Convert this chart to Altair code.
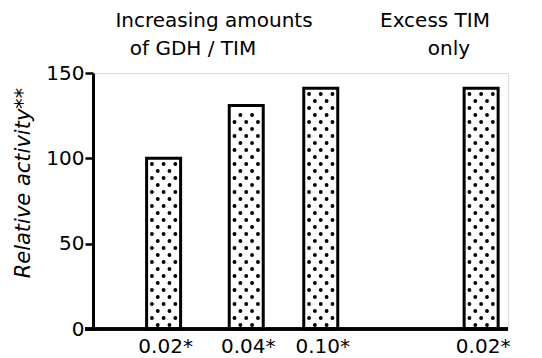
import altair as alt
import pandas as pd

# data
labels = ["0.02*", "0.04*", "0.10*", "0.02*"]
positions = [0.81, 1.83, 2.75, 4.73]
values = [100, 131, 141, 141]
groups = ["Increasing amounts of GDH / TIM"] * 3 + ["Excess TIM only"]

W, H = 415, 256
XMAX, YMAX = 5.0, 150.0
FONT = "DejaVu Sans"

bars = pd.DataFrame({"pos": positions, "value": values, "label": labels, "group": groups})

# stipple texture inside each bar (derived from the bar table)
ux = XMAX / W
uy = YMAX / H
dots = []
for p, v in zip(positions, values):
    row = 0
    ypx = 4.0
    while ypx < v / uy - 3:
        offs = [-12, 0, 12] if row % 2 else [-6, 6]
        for o in offs:
            dots.append({"x": p + o * ux, "y": ypx * uy})
        ypx += 7.0
        row += 1
dots = pd.DataFrame(dots)

xs = alt.Scale(domain=[0, XMAX], nice=False, zero=True)
ys = alt.Scale(domain=[0, YMAX], nice=False)

bar = alt.Chart(bars).mark_bar(size=34, fill="white", stroke="black", strokeWidth=3).encode(
    x=alt.X("pos:Q", scale=xs, axis=None),
    y=alt.Y("value:Q", scale=ys, axis=alt.Axis(
        values=[0, 50, 100, 150], title=None, grid=False, tickSize=8, tickWidth=2.5,
        domainWidth=3, domainColor="black", tickColor="black",
        labelFont=FONT, labelFontSize=20, labelColor="black", labelPadding=1)),
)

dot = alt.Chart(dots).mark_circle(size=15, color="black", opacity=1).encode(
    x=alt.X("x:Q", scale=xs), y=alt.Y("y:Q", scale=ys)
)

baseline = alt.Chart(bars).mark_rule(color="black", strokeWidth=3).encode(
    x=alt.value(-8), x2=alt.value(W), y=alt.value(H)
)

xlab = alt.Chart(bars).mark_text(font=FONT, fontSize=20, color="black", baseline="middle", dy=18, dx=2).encode(
    x=alt.X("pos:Q", scale=xs), y=alt.value(H), text="label:N"
)

heads = pd.DataFrame({
    "t": ["Increasing amounts", "of GDH / TIM", "Excess TIM", "only"],
    "px": [121, 100, 342, 356],
    "py": [-52, -24, -52, -24],
})
head = alt.Chart(heads).mark_text(font=FONT, fontSize=20, color="black").encode(
    x=alt.X("px:Q", scale=None), y=alt.Y("py:Q", scale=None), text="t:N"
)

ytitle = alt.Chart(pd.DataFrame({"t": ["Relative activity**"]})).mark_text(
    font=FONT, fontSize=21, fontStyle="italic", angle=270, color="black"
).encode(x=alt.value(-69), y=alt.value(110), text="t:N")

chart = alt.layer(bar, dot, baseline, xlab, head, ytitle).properties(
    width=W, height=H,
    autosize=alt.AutoSizeParams(type="none"),
    padding={"left": 85, "top": 65, "right": 16, "bottom": 29},
).configure_view(stroke=None).configure(background="white")

chart.save("out.html", embed_options={"renderer": "svg", "actions": False})
